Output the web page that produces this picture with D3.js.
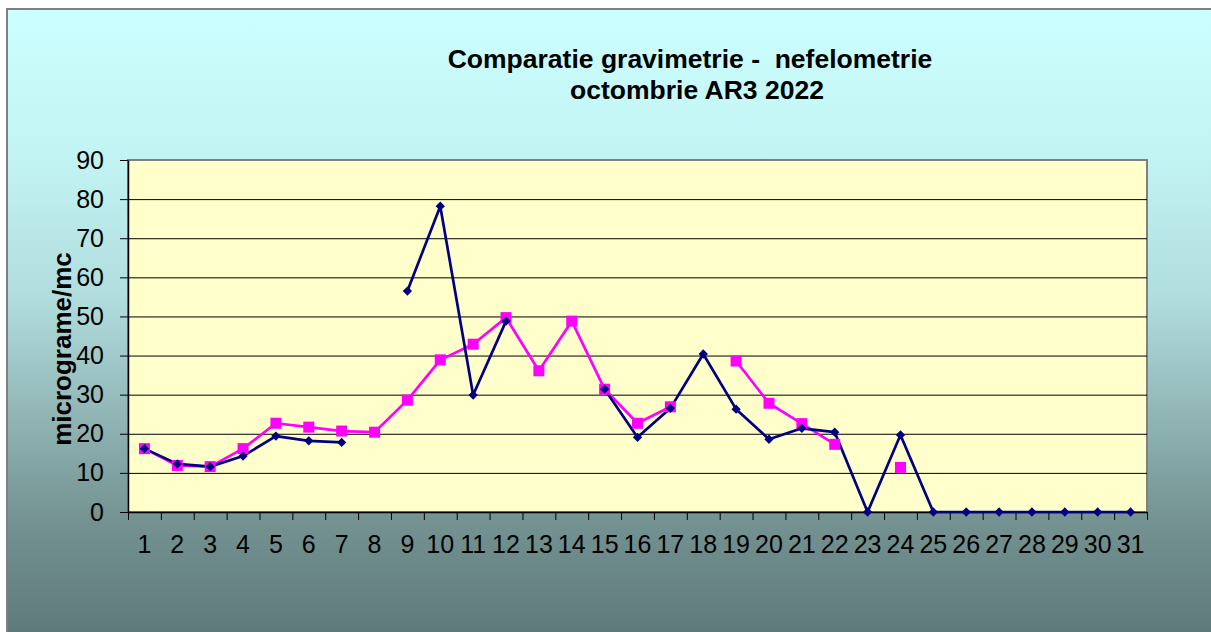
<!DOCTYPE html>
<html>
<head>
<meta charset="utf-8">
<script src="https://cdn.jsdelivr.net/npm/d3@7"></script>
<style>
  html, body { margin: 0; padding: 0; background: #fff; }
  svg { display: block; font-family: "Liberation Sans", Arial, sans-serif; }
</style>
</head>
<body>
<div id="chart"></div>
<script>
// zile (categorii)
const days = d3.range(1, 32).map(String);

// gravimetrie (albastru) - null = lipsa
const gravimetrie = [16.2, 12.3, 11.6, 14.3, 19.4, 18.2, 17.8, null, 56.5, 78.2,
  29.9, 48.8, null, null, 31.4, 19.1, 26.5, 40.4, 26.3, 18.6,
  21.4, 20.4, 0, 19.7, 0, 0, 0, 0, 0, 0, 0];

// nefelometrie (magenta)
const nefelometrie = [16.2, 11.9, 11.6, 16.2, 22.7, 21.7, 20.7, 20.4, 28.6, 38.9,
  42.9, 49.7, 36.1, 48.8, 31.4, 22.7, 26.9, null, 38.6, 27.8,
  22.6, 17.3, null, 11.4, null, null, null, null, null, null, null];

const yTicks = [0, 10, 20, 30, 40, 50, 60, 70, 80, 90];
const titleLines = ["Comparatie gravimetrie -\u00a0 nefelometrie", "octombrie AR3 2022"];
const yLabel = "micrograme/mc";

(() => {
  const width = 1211, height = 632;
  const plot = { left: 128, top: 160, right: 1147, bottom: 512 };
  const innerW = plot.right - plot.left;
  const innerH = plot.bottom - plot.top;
  const FONT = "Liberation Sans, Arial, sans-serif";

  const svg = d3.select("#chart").append("svg")
    .attr("width", width).attr("height", height);

  const defs = svg.append("defs");
  const grad = defs.append("linearGradient")
    .attr("id", "bg").attr("x1", 0).attr("y1", 0).attr("x2", 0).attr("y2", 1);
  [[0, "#CCFFFF"], [0.22, "#C3F4F4"], [0.45, "#B0DCDC"], [0.62, "#92B6B6"],
   [0.78, "#759393"], [1, "#5A7474"]].forEach(([o, c]) =>
    grad.append("stop").attr("offset", o).attr("stop-color", c));

  // fundal grafic
  svg.append("rect")
    .attr("x", 7).attr("y", 9)
    .attr("width", width + 20).attr("height", height + 20)
    .attr("fill", "url(#bg)")
    .attr("stroke", "#7f7f7f").attr("stroke-width", 2);

  // titlu
  const title = svg.append("text")
    .attr("text-anchor", "middle")
    .attr("font-weight", "bold")
    .attr("font-size", 26.5)
    .attr("fill", "#000");
  title.append("tspan").attr("x", 690).attr("y", 68).text(titleLines[0]);
  title.append("tspan").attr("x", 697).attr("y", 99).text(titleLines[1]);

  const g = svg.append("g").attr("transform", `translate(${plot.left},${plot.top})`);

  const x = d3.scaleBand().domain(days).range([0, innerW]).padding(0);
  const xb = d3.scaleLinear().domain([0, days.length]).range([0, innerW]);
  const y = d3.scaleLinear().domain([0, 90]).range([innerH, 0]);

  // zona plot
  g.append("rect")
    .attr("width", innerW).attr("height", innerH)
    .attr("fill", "#FFFFCC")
    .attr("stroke", "#808080").attr("stroke-width", 2);

  // grid
  g.append("g")
    .call(d3.axisLeft(y).tickValues(yTicks.slice(1, -1)).tickSize(-innerW).tickFormat(""))
    .call(s => s.select(".domain").remove())
    .call(s => s.selectAll("line").attr("stroke", "#000").attr("stroke-width", 1));

  // axa Y
  g.append("g")
    .call(d3.axisLeft(y).tickValues(yTicks).tickSize(8).tickSizeOuter(0).tickPadding(16))
    .call(s => s.select(".domain").attr("stroke", "#000").attr("stroke-width", 1.5))
    .call(s => s.selectAll("line").attr("stroke", "#000"))
    .call(s => s.selectAll("text")
      .attr("font-size", 25).attr("fill", "#000")
      .attr("font-family", FONT));

  // axa X: liniute la granitele categoriilor
  g.append("g")
    .attr("transform", `translate(0,${innerH})`)
    .call(d3.axisBottom(xb).tickValues(d3.range(days.length + 1)).tickSize(8).tickSizeOuter(0).tickFormat(""))
    .call(s => s.select(".domain").attr("stroke", "#000").attr("stroke-width", 1.5))
    .call(s => s.selectAll("line").attr("stroke", "#000"));

  // etichete X
  g.append("g")
    .attr("transform", `translate(0,${innerH})`)
    .call(d3.axisBottom(x).tickSize(0).tickPadding(23))
    .call(s => s.select(".domain").remove())
    .call(s => s.selectAll("text")
      .attr("font-size", 25).attr("fill", "#000")
      .attr("font-family", FONT));

  // titlu axa Y
  svg.append("text")
    .attr("transform", `translate(71,349) rotate(-90)`)
    .attr("text-anchor", "middle")
    .attr("font-weight", "bold")
    .attr("font-size", 26)
    .attr("fill", "#000")
    .text(yLabel);

  const cx = (i) => x(days[i]) + x.bandwidth() / 2;
  const line = d3.line()
    .defined(d => d != null)
    .x((d, i) => cx(i))
    .y(d => y(d));

  // nefelometrie
  g.append("path")
    .datum(nefelometrie)
    .attr("fill", "none")
    .attr("stroke", "#FF00FF")
    .attr("stroke-width", 2.7)
    .attr("stroke-linejoin", "round")
    .attr("d", line);

  // gravimetrie
  g.append("path")
    .datum(gravimetrie)
    .attr("fill", "none")
    .attr("stroke", "#000080")
    .attr("stroke-width", 2.7)
    .attr("stroke-linejoin", "round")
    .attr("d", line);

  const gPts = gravimetrie.map((v, i) => ({ v, i })).filter(d => d.v != null);
  const nPts = nefelometrie.map((v, i) => ({ v, i })).filter(d => d.v != null);

  g.selectAll("rect.sq")
    .data(nPts)
    .enter().append("rect")
    .attr("class", "sq")
    .attr("x", d => cx(d.i) - 5.5)
    .attr("y", d => y(d.v) - 5.5)
    .attr("width", 11).attr("height", 11)
    .attr("fill", "#FF00FF");

  g.selectAll("path.dm")
    .data(gPts)
    .enter().append("path")
    .attr("class", "dm")
    .attr("d", d3.symbol(d3.symbolDiamond2, 55))
    .attr("transform", d => `translate(${cx(d.i)},${y(d.v)})`)
    .attr("fill", "#000080");
})();
</script>
</body>
</html>
